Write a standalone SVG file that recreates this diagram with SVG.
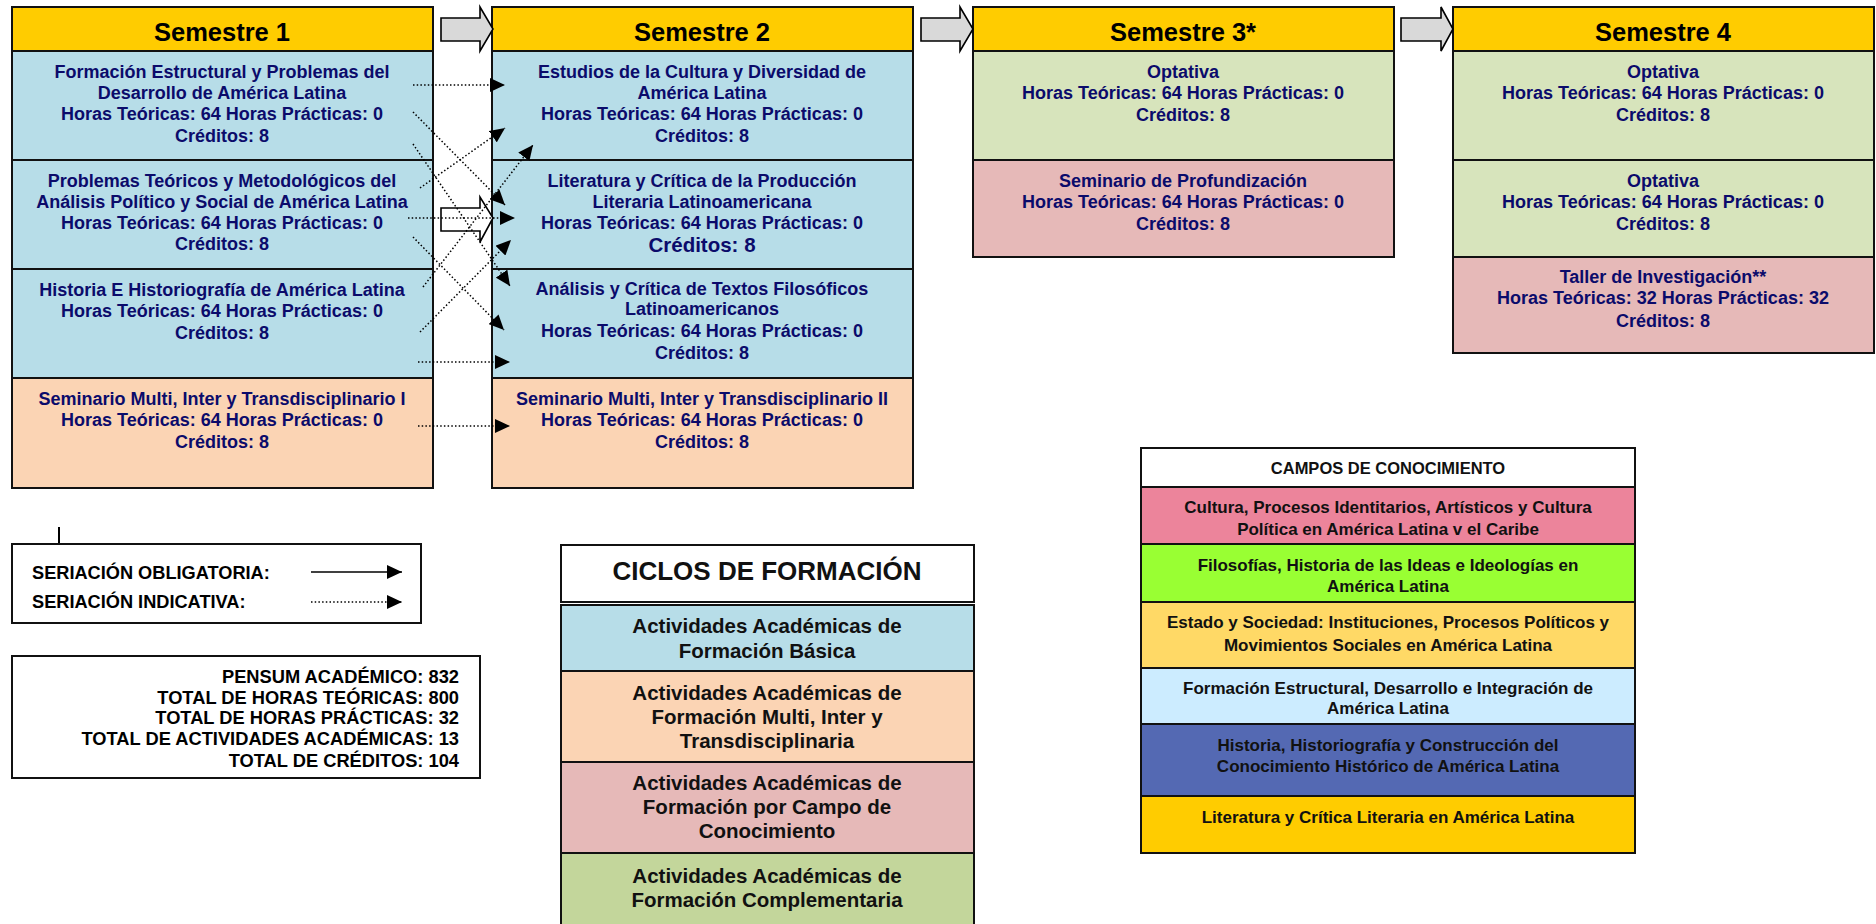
<svg xmlns="http://www.w3.org/2000/svg" width="1876" height="924" viewBox="0 0 1876 924">
<style>
.bg{fill:#fff}
.box{stroke:#111;stroke-width:2}
.hdrbox{fill:#FFCC00;stroke:#111;stroke-width:2}
.blue{fill:#B7DDE8}
.peach{fill:#FBD4B4}
.green{fill:#D7E4BC}
.pink{fill:#E6B9B8}
.hdr{font-family:"Liberation Sans",Arial,sans-serif;font-weight:bold;font-size:25.5px;fill:#000;text-anchor:middle}
.t{font-family:"Liberation Sans",Arial,sans-serif;font-weight:bold;font-size:18px;fill:#0B0B6B;text-anchor:middle}
.tb{font-size:20.5px}
.lg{font-family:"Liberation Sans",Arial,sans-serif;font-weight:bold;font-size:18.2px;fill:#000}
.tot{font-family:"Liberation Sans",Arial,sans-serif;font-weight:bold;font-size:18.3px;fill:#000;text-anchor:end}
.cy{font-family:"Liberation Sans",Arial,sans-serif;font-weight:bold;font-size:20.5px;fill:#111;text-anchor:middle}
.cyh{font-size:26px}
.cp{font-family:"Liberation Sans",Arial,sans-serif;font-weight:bold;font-size:17px;fill:#111;text-anchor:middle}
.cph{font-size:16.5px}
.dot{fill:none;stroke:#000;stroke-width:1.5;stroke-dasharray:1.5 2.2;marker-end:url(#ah)}
.blk{stroke:#000;stroke-width:1.6}
</style>
<defs>
<marker id="ah" markerUnits="userSpaceOnUse" markerWidth="16" markerHeight="14" refX="15" refY="7" orient="auto">
<path d="M0,0 L15,7 L0,14 Z" fill="#000" stroke="none"/>
</marker>
</defs>
<rect class="bg" x="0" y="0" width="1876" height="924"/>

<g id="semestre1">
<rect class="box blue" x="12" y="51" width="421" height="109"/>
<rect class="box blue" x="12" y="160" width="421" height="109"/>
<rect class="box blue" x="12" y="269" width="421" height="109"/>
<rect class="box peach" x="12" y="378" width="421" height="110"/>
<rect class="hdrbox" x="12" y="7" width="421" height="44"/>
<text class="hdr" x="222" y="41">Semestre 1</text>
<text class="t" x="222" y="78">Formación Estructural y Problemas del</text>
<text class="t" x="222" y="99">Desarrollo de América Latina</text>
<text class="t" x="222" y="120">Horas Teóricas: 64 Horas Prácticas: 0</text>
<text class="t" x="222" y="142">Créditos: 8</text>
<text class="t" x="222" y="187">Problemas Teóricos y Metodológicos del</text>
<text class="t" x="222" y="208">Análisis Político y Social de América Latina</text>
<text class="t" x="222" y="229">Horas Teóricas: 64 Horas Prácticas: 0</text>
<text class="t" x="222" y="250">Créditos: 8</text>
<text class="t" x="222" y="296">Historia E Historiografía de América Latina</text>
<text class="t" x="222" y="317">Horas Teóricas: 64 Horas Prácticas: 0</text>
<text class="t" x="222" y="339">Créditos: 8</text>
<text class="t" x="222" y="405">Seminario Multi, Inter y Transdisciplinario I</text>
<text class="t" x="222" y="426">Horas Teóricas: 64 Horas Prácticas: 0</text>
<text class="t" x="222" y="448">Créditos: 8</text>
</g>

<g id="semestre2">
<rect class="box blue" x="492" y="51" width="421" height="109"/>
<rect class="box blue" x="492" y="160" width="421" height="109"/>
<rect class="box blue" x="492" y="269" width="421" height="109"/>
<rect class="box peach" x="492" y="378" width="421" height="110"/>
<rect class="hdrbox" x="492" y="7" width="421" height="44"/>
<text class="hdr" x="702" y="41">Semestre 2</text>
<text class="t" x="702" y="78">Estudios de la Cultura y Diversidad de</text>
<text class="t" x="702" y="99">América Latina</text>
<text class="t" x="702" y="120">Horas Teóricas: 64 Horas Prácticas: 0</text>
<text class="t" x="702" y="142">Créditos: 8</text>
<text class="t" x="702" y="187">Literatura y Crítica de la Producción</text>
<text class="t" x="702" y="208">Literaria Latinoamericana</text>
<text class="t" x="702" y="229">Horas Teóricas: 64 Horas Prácticas: 0</text>
<text class="t tb" x="702" y="252">Créditos: 8</text>
<text class="t" x="702" y="295">Análisis y Crítica de Textos Filosóficos</text>
<text class="t" x="702" y="315">Latinoamericanos</text>
<text class="t" x="702" y="337">Horas Teóricas: 64 Horas Prácticas: 0</text>
<text class="t" x="702" y="359">Créditos: 8</text>
<text class="t" x="702" y="405">Seminario Multi, Inter y Transdisciplinario II</text>
<text class="t" x="702" y="426">Horas Teóricas: 64 Horas Prácticas: 0</text>
<text class="t" x="702" y="448">Créditos: 8</text>
</g>

<g id="semestre3">
<rect class="box green" x="973" y="51" width="421" height="109"/>
<rect class="box pink" x="973" y="160" width="421" height="97"/>
<rect class="hdrbox" x="973" y="7" width="421" height="44"/>
<text class="hdr" x="1183" y="41">Semestre 3*</text>
<text class="t" x="1183" y="78">Optativa</text>
<text class="t" x="1183" y="99">Horas Teóricas: 64 Horas Prácticas: 0</text>
<text class="t" x="1183" y="121">Créditos: 8</text>
<text class="t" x="1183" y="187">Seminario de Profundización</text>
<text class="t" x="1183" y="208">Horas Teóricas: 64 Horas Prácticas: 0</text>
<text class="t" x="1183" y="230">Créditos: 8</text>
</g>

<g id="semestre4">
<rect class="box green" x="1453" y="51" width="421" height="109"/>
<rect class="box green" x="1453" y="160" width="421" height="97"/>
<rect class="box pink" x="1453" y="257" width="421" height="96"/>
<rect class="hdrbox" x="1453" y="7" width="421" height="44"/>
<text class="hdr" x="1663" y="41">Semestre 4</text>
<text class="t" x="1663" y="78">Optativa</text>
<text class="t" x="1663" y="99">Horas Teóricas: 64 Horas Prácticas: 0</text>
<text class="t" x="1663" y="121">Créditos: 8</text>
<text class="t" x="1663" y="187">Optativa</text>
<text class="t" x="1663" y="208">Horas Teóricas: 64 Horas Prácticas: 0</text>
<text class="t" x="1663" y="230">Créditos: 8</text>
<text class="t" x="1663" y="283">Taller de Investigación**</text>
<text class="t" x="1663" y="304">Horas Teóricas: 32 Horas Prácticas: 32</text>
<text class="t" x="1663" y="327">Créditos: 8</text>
</g>

<g id="connectors">
<path class="blk" fill="#D9D9D9" d="M441,18 L480,18 L480,7 L493,29 L480,51 L480,41 L441,41 Z"/>
<path class="blk" fill="#D9D9D9" d="M921,18 L960,18 L960,7 L973,29 L960,51 L960,41 L921,41 Z"/>
<path class="blk" fill="#D9D9D9" d="M1401,18 L1441,18 L1441,7 L1453,29 L1441,51 L1441,41 L1401,41 Z"/>
<path class="blk" fill="#FFFFFF" d="M441,208 L480,208 L480,197 L493,218 L480,242 L480,231 L441,231 Z"/>
<path class="dot" d="M413,85 L505,85"/>
<path class="dot" d="M413,112 L505,205"/>
<path class="dot" d="M413,144 L510,286"/>
<path class="dot" d="M420,188 L505,128"/>
<path class="dot" d="M408,218 L515,218"/>
<path class="dot" d="M413,237 L504,330"/>
<path class="dot" d="M423,287 L533,145"/>
<path class="dot" d="M420,332 L511,240"/>
<path class="dot" d="M418,362 L510,362"/>
<path class="dot" d="M418,426 L510,426"/>
</g>

<g id="legend-seriacion">
<line x1="59" y1="527" x2="59" y2="544" stroke="#000" stroke-width="2"/>
<rect x="12" y="544" width="409" height="79" fill="#fff" stroke="#111" stroke-width="2"/>
<text class="lg" x="32" y="579">SERIACIÓN OBLIGATORIA:</text>
<text class="lg" x="32" y="608">SERIACIÓN INDICATIVA:</text>
<path d="M311,572 L402,572" stroke="#000" stroke-width="1.6" marker-end="url(#ah)"/>
<path class="dot" d="M311,602 L402,602"/>
</g>

<g id="totales">
<rect x="12" y="656" width="468" height="122" fill="#fff" stroke="#111" stroke-width="2"/>
<text class="tot" x="459" y="683">PENSUM ACADÉMICO: 832</text>
<text class="tot" x="459" y="704">TOTAL DE HORAS TEÓRICAS: 800</text>
<text class="tot" x="459" y="724">TOTAL DE HORAS PRÁCTICAS: 32</text>
<text class="tot" x="459" y="745">TOTAL DE ACTIVIDADES ACADÉMICAS: 13</text>
<text class="tot" x="459" y="767">TOTAL DE CRÉDITOS: 104</text>
</g>

<g id="ciclos">
<rect x="561" y="545" width="413" height="57" fill="#fff" stroke="#111" stroke-width="2"/>
<rect x="561" y="605" width="413" height="66" fill="#B7DDE8" stroke="#111" stroke-width="2"/>
<rect x="561" y="671" width="413" height="91" fill="#FBD4B4" stroke="#111" stroke-width="2"/>
<rect x="561" y="762" width="413" height="91" fill="#E6B9B8" stroke="#111" stroke-width="2"/>
<rect x="561" y="853" width="413" height="75" fill="#C3D69B" stroke="#111" stroke-width="2"/>
<text class="cy cyh" x="767" y="580">CICLOS DE FORMACIÓN</text>
<text class="cy" x="767" y="633">Actividades Académicas de</text>
<text class="cy" x="767" y="658">Formación Básica</text>
<text class="cy" x="767" y="700">Actividades Académicas de</text>
<text class="cy" x="767" y="724">Formación Multi, Inter y</text>
<text class="cy" x="767" y="748">Transdisciplinaria</text>
<text class="cy" x="767" y="790">Actividades Académicas de</text>
<text class="cy" x="767" y="814">Formación por Campo de</text>
<text class="cy" x="767" y="838">Conocimiento</text>
<text class="cy" x="767" y="883">Actividades Académicas de</text>
<text class="cy" x="767" y="907">Formación Complementaria</text>
</g>

<g id="campos">
<rect x="1141" y="448" width="494" height="39" fill="#fff" stroke="#111" stroke-width="2"/>
<rect x="1141" y="487" width="494" height="57" fill="#EC849B" stroke="#111" stroke-width="2"/>
<rect x="1141" y="544" width="494" height="58" fill="#99FF33" stroke="#111" stroke-width="2"/>
<rect x="1141" y="602" width="494" height="66" fill="#FFD966" stroke="#111" stroke-width="2"/>
<rect x="1141" y="668" width="494" height="56" fill="#CCECFF" stroke="#111" stroke-width="2"/>
<rect x="1141" y="724" width="494" height="72" fill="#5469B3" stroke="#111" stroke-width="2"/>
<rect x="1141" y="796" width="494" height="57" fill="#FFCC00" stroke="#111" stroke-width="2"/>
<text class="cp cph" x="1388" y="474">CAMPOS DE CONOCIMIENTO</text>
<text class="cp" x="1388" y="513">Cultura, Procesos Identitarios, Artísticos y Cultura</text>
<text class="cp" x="1388" y="535">Política en América Latina v el Caribe</text>
<text class="cp" x="1388" y="571">Filosofías, Historia de las Ideas e Ideologías en</text>
<text class="cp" x="1388" y="592">América Latina</text>
<text class="cp" x="1388" y="628">Estado y Sociedad: Instituciones, Procesos Políticos y</text>
<text class="cp" x="1388" y="651">Movimientos Sociales en América Latina</text>
<text class="cp" x="1388" y="694">Formación Estructural, Desarrollo e Integración de</text>
<text class="cp" x="1388" y="714">América Latina</text>
<text class="cp" x="1388" y="751">Historia, Historiografía y Construcción del</text>
<text class="cp" x="1388" y="772">Conocimiento Histórico de América Latina</text>
<text class="cp" x="1388" y="823">Literatura y Crítica Literaria en América Latina</text>
</g>
</svg>
